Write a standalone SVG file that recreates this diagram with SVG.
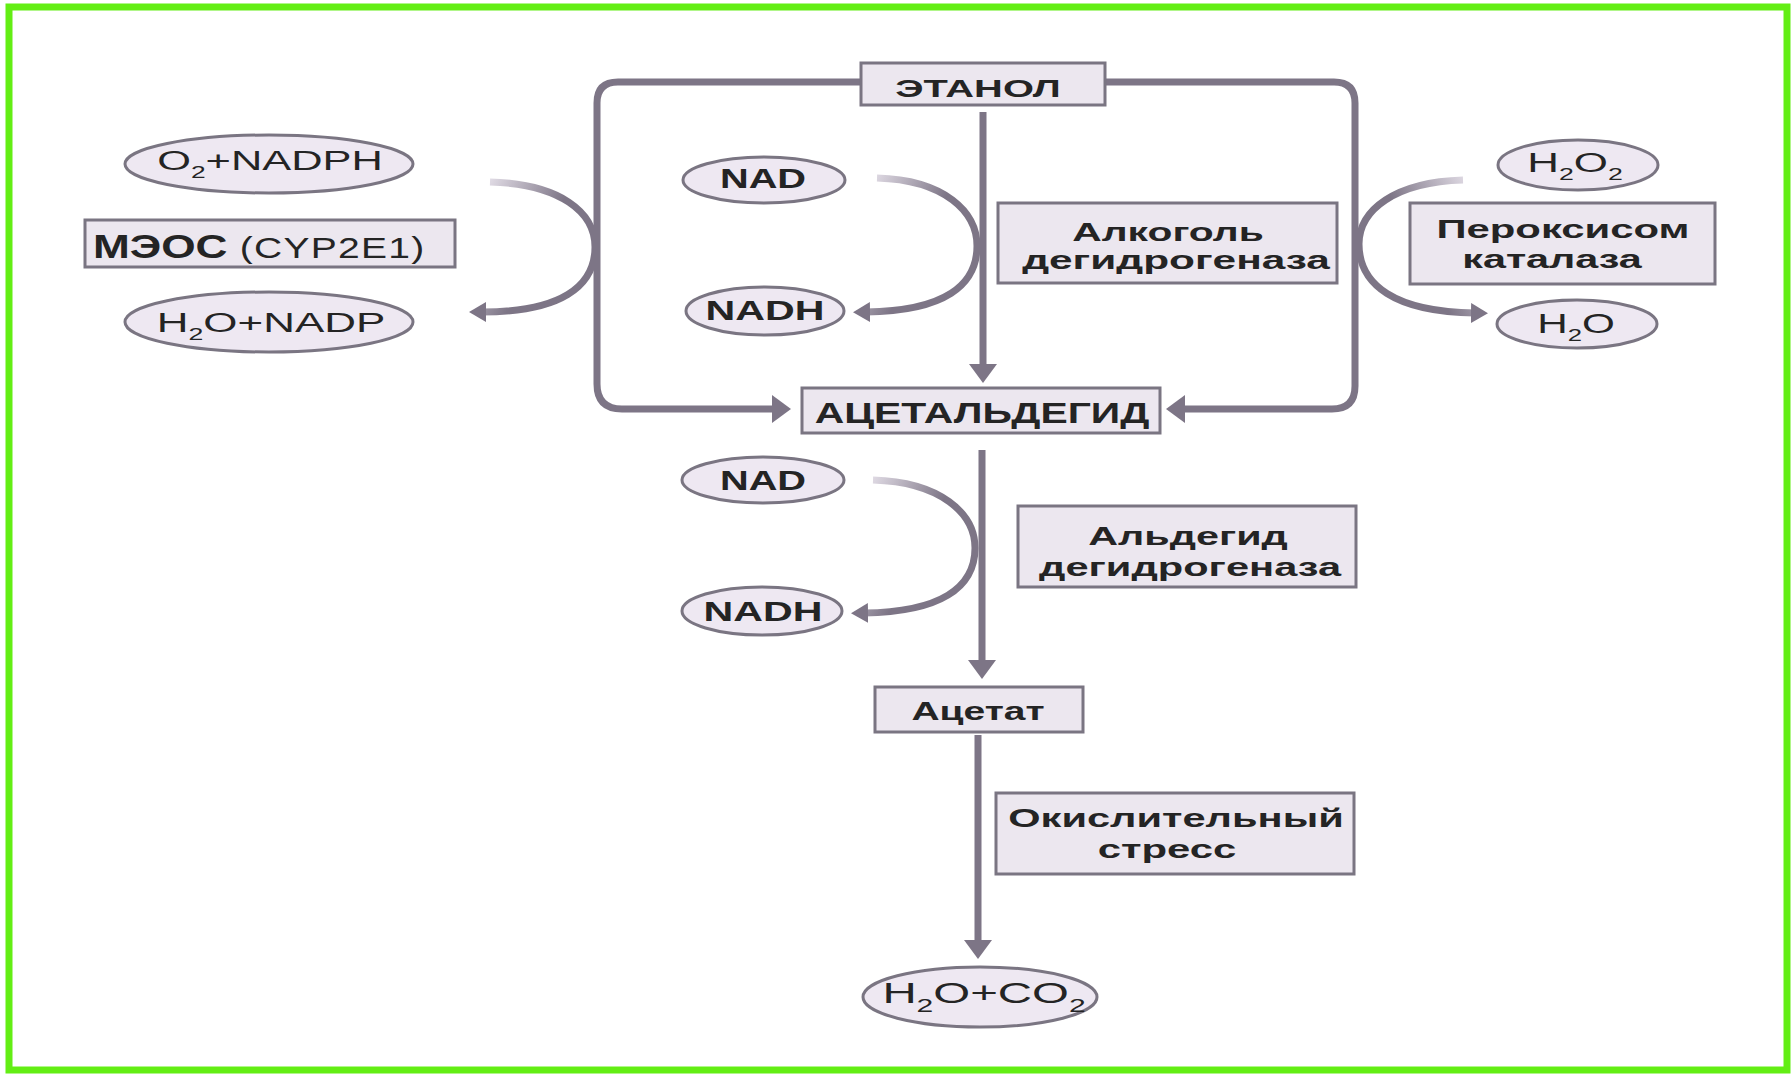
<svg xmlns="http://www.w3.org/2000/svg" width="1791" height="1074" viewBox="0 0 1791 1074">
<style>
.box{fill:#ece7ef;stroke:#7a7582;stroke-width:3}
.ell{fill:#eee8f2;stroke:#7a7582;stroke-width:3}
.t{font-family:"Liberation Sans",Arial,sans-serif;fill:#242424}
.b{font-weight:bold}
.ln{fill:none;stroke:#7d7586;stroke-width:7}
.cv{fill:none;stroke-width:7}
</style>
<defs>
<marker id="ah" markerUnits="userSpaceOnUse" markerWidth="20" markerHeight="30" refX="6" refY="14" orient="auto">
<path d="M0,0 L19,14 L0,28 Z" fill="#7d7586"/>
</marker>
<marker id="ahs" markerUnits="userSpaceOnUse" markerWidth="18" markerHeight="22" refX="4" refY="10" orient="auto">
<path d="M0,0 L17,10 L0,20 Z" fill="#7d7586"/>
</marker>
<linearGradient id="gl" x1="0" y1="0" x2="0.6" y2="0.35">
<stop offset="0" stop-color="#e8e3ec"/>
<stop offset="1" stop-color="#7d7586"/>
</linearGradient>
<linearGradient id="gr" x1="1" y1="0" x2="0.4" y2="0.35">
<stop offset="0" stop-color="#e8e3ec"/>
<stop offset="1" stop-color="#7d7586"/>
</linearGradient>
</defs>
<rect x="0" y="0" width="1791" height="1074" fill="#ffffff"/>
<rect x="9" y="7" width="1778" height="1063" fill="none" stroke="#63ee14" stroke-width="7"/>

<g id="connectors">
<path class="ln" d="M861,82 H618 Q597,82 597,103 V384 Q597,409 622,409 H778" marker-end="url(#ah)"/>
<path class="ln" d="M1105,82 H1334 Q1355,82 1355,103 V386 Q1355,409 1332,409 H1179" marker-end="url(#ah)"/>
<path class="ln" d="M983,112 V370" marker-end="url(#ah)"/>
<path class="ln" d="M982,450 V666" marker-end="url(#ah)"/>
<path class="ln" d="M978,735 V946" marker-end="url(#ah)"/>
<path class="cv" stroke="url(#gl)" d="M877,178 C945,180 977,212 977,246 C977,285 945,311 866,312" marker-end="url(#ahs)"/>
<path class="cv" stroke="url(#gl)" d="M873,480 C940,482 975,513 975,548 C975,588 940,612 864,613" marker-end="url(#ahs)"/>
<path class="cv" stroke="url(#gl)" d="M490,182 C560,184 595,212 595,247 C595,287 560,312 482,312" marker-end="url(#ahs)"/>
<path class="cv" stroke="url(#gr)" d="M1463,180 C1395,182 1359,210 1359,244 C1359,285 1395,312 1475,313" marker-end="url(#ahs)"/>
</g>

<g id="ethanol">
<rect class="box" x="861" y="63" width="244" height="42"/>
<text class="t b" font-size="24" text-anchor="middle" transform="translate(978,97) scale(1.66,1)">ЭТАНОЛ</text>
</g>
<g id="acetaldehyde">
<rect class="box" x="802" y="388" width="358" height="45"/>
<text class="t b" font-size="29" text-anchor="middle" transform="translate(982,423) scale(1.41,1)">АЦЕТАЛЬДЕГИД</text>
</g>
<g id="adh">
<rect class="box" x="998" y="203" width="339" height="80"/>
<text class="t b" font-size="26" text-anchor="middle" transform="translate(1168,241) scale(1.57,1)">Алкоголь</text>
<text class="t b" font-size="26" text-anchor="middle" transform="translate(1176,269) scale(1.63,1)">дегидрогеназа</text>
</g>
<g id="meos">
<rect class="box" x="85" y="220" width="370" height="47"/>
<text class="t" transform="translate(93,258) scale(1.3,1)"><tspan class="b" font-size="34">МЭОС</tspan><tspan font-size="30" letter-spacing="1"> (CYP2E1)</tspan></text>
</g>
<g id="catalase">
<rect class="box" x="1410" y="203" width="305" height="81"/>
<text class="t b" font-size="26" text-anchor="middle" transform="translate(1563,238) scale(1.61,1)">Пероксисом</text>
<text class="t b" font-size="26" text-anchor="middle" transform="translate(1552,268) scale(1.59,1)">каталаза</text>
</g>
<g id="aldh">
<rect class="box" x="1018" y="506" width="338" height="81"/>
<text class="t b" font-size="26" text-anchor="middle" transform="translate(1188,545) scale(1.59,1)">Альдегид</text>
<text class="t b" font-size="26" text-anchor="middle" transform="translate(1190,576) scale(1.60,1)">дегидрогеназа</text>
</g>
<g id="acetate">
<rect class="box" x="875" y="687" width="208" height="45"/>
<text class="t b" font-size="25" text-anchor="middle" transform="translate(978,720) scale(1.56,1)">Ацетат</text>
</g>
<g id="stress">
<rect class="box" x="996" y="793" width="358" height="81"/>
<text class="t b" font-size="26" text-anchor="middle" transform="translate(1176,827) scale(1.60,1)">Окислительный</text>
<text class="t b" font-size="26" text-anchor="middle" transform="translate(1167,858) scale(1.61,1)">стресс</text>
</g>

<g id="o2nadph">
<ellipse class="ell" cx="269" cy="164" rx="144" ry="29"/>
<text class="t" font-size="28" text-anchor="middle" transform="translate(270,170) scale(1.55,1)">O<tspan font-size="17" dy="8">2</tspan><tspan dy="-8">+NADPH</tspan></text>
</g>
<g id="h2onadp">
<ellipse class="ell" cx="269" cy="322" rx="144" ry="30"/>
<text class="t" font-size="28" text-anchor="middle" transform="translate(271,332) scale(1.57,1)">H<tspan font-size="17" dy="8">2</tspan><tspan dy="-8">O+NADP</tspan></text>
</g>
<g id="nad1">
<ellipse class="ell" cx="764" cy="180" rx="81" ry="23"/>
<text class="t b" font-size="28" text-anchor="middle" transform="translate(763,188) scale(1.42,1)">NAD</text>
</g>
<g id="nadh1">
<ellipse class="ell" cx="765" cy="311" rx="79" ry="24"/>
<text class="t b" font-size="28" text-anchor="middle" transform="translate(765,320) scale(1.47,1)">NADH</text>
</g>
<g id="nad2">
<ellipse class="ell" cx="763" cy="480" rx="81" ry="23"/>
<text class="t b" font-size="28" text-anchor="middle" transform="translate(763,490) scale(1.42,1)">NAD</text>
</g>
<g id="nadh2">
<ellipse class="ell" cx="762" cy="611" rx="80" ry="24"/>
<text class="t b" font-size="28" text-anchor="middle" transform="translate(763,621) scale(1.47,1)">NADH</text>
</g>
<g id="h2o2">
<ellipse class="ell" cx="1578" cy="165" rx="80" ry="25"/>
<text class="t" font-size="28" text-anchor="middle" transform="translate(1575,172) scale(1.57,1)">H<tspan font-size="17" dy="8">2</tspan><tspan dy="-8">O</tspan><tspan font-size="17" dy="8">2</tspan></text>
</g>
<g id="h2o">
<ellipse class="ell" cx="1577" cy="324" rx="80" ry="24"/>
<text class="t" font-size="28" text-anchor="middle" transform="translate(1576,333) scale(1.51,1)">H<tspan font-size="17" dy="8">2</tspan><tspan dy="-8">O</tspan></text>
</g>
<g id="h2oco2">
<ellipse class="ell" cx="980" cy="997" rx="117" ry="30"/>
<text class="t" font-size="30" text-anchor="middle" transform="translate(984,1003) scale(1.58,1)">H<tspan font-size="19" dy="9">2</tspan><tspan dy="-9">O+CO</tspan><tspan font-size="19" dy="9">2</tspan></text>
</g>
</svg>
